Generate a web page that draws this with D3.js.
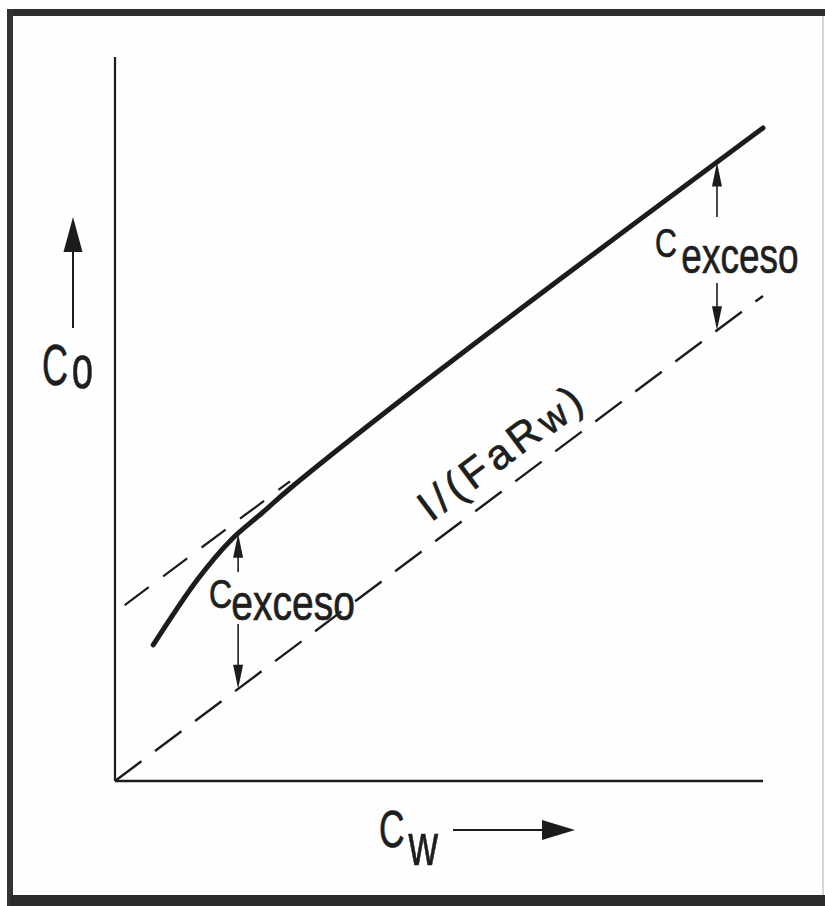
<!DOCTYPE html>
<html>
<head>
<meta charset="utf-8">
<script src="https://cdn.jsdelivr.net/npm/d3@7"></script>
<style>
  html, body { margin: 0; padding: 0; background: #fff; }
  svg { display: block; }
  text { font-family: "Liberation Sans", Arial, sans-serif; fill: #1e1e1e;
         stroke: #1e1e1e; stroke-width: 0.7; }
</style>
</head>
<body>
<svg id="chart" width="825" height="906"></svg>
<script>
// Measured concentration curve C_o versus C_w (arbitrary units, 0-100)
const curveCw = [5.9, 12.7, 17.8, 22.8, 27.0, 50.2, 100];
const curveCo = [18.8, 27.8, 33.2, 37.1, 40.4, 56.8, 90.2];

// Ideal line C_o = C_w / (Fa Rw): slope of the dashed line through the origin
const idealSlope = [0.67];
const idealCw = [0, 100];

// Asymptote parallel to the ideal line, offset by the excess
const asymptoteIntercept = [23.3];
const asymptoteCw = [1.5, 27.0];

// Where the excess is marked with arrows
const excessCw = [19.0, 92.9];

const labels = { excessMain: "C", excess: "exceso", ideal: "I/(FaR", idealSub: "w", idealEnd: ")",
                 x: "C", xSub: "w", y: "C", ySub: "o" };

const svg = d3.select("#chart");
const W = 825, H = 906;

// Scanned page frame
svg.append("rect").attr("width", W).attr("height", H).attr("fill", "#fefefe");
svg.append("rect").attr("x", 7).attr("y", 9).attr("width", W - 7).attr("height", 7).attr("fill", "#2e2e2e");
svg.append("rect").attr("x", 7).attr("y", 9).attr("width", 6).attr("height", H - 9).attr("fill", "#333");
svg.append("rect").attr("x", 10).attr("y", 895).attr("width", W - 10).attr("height", 11).attr("fill", "#2a2a2a");
svg.append("line").attr("x1", 823).attr("x2", 823).attr("y1", 16).attr("y2", 895)
  .attr("stroke", "#c8c8c8").attr("stroke-width", 1.5);

const x = d3.scaleLinear().domain([0, 100]).range([115, 763]);
const y = d3.scaleLinear().domain([0, 100]).range([781, 57]);

const ink = "#1c1c1c";

// Axes: plain lines, no ticks
svg.append("line").attr("x1", x(0)).attr("x2", x(0)).attr("y1", y(0)).attr("y2", y(100))
  .attr("stroke", ink).attr("stroke-width", 2.2);
svg.append("line").attr("x1", x(0)).attr("x2", x(100)).attr("y1", y(0)).attr("y2", y(0))
  .attr("stroke", ink).attr("stroke-width", 2.6);

const line = d3.line().x(d => x(d[0])).y(d => y(d[1]));

// Ideal dashed line
const ideal = idealCw.map(c => [c, idealSlope[0] * c]);
svg.append("path").attr("d", line(ideal)).attr("fill", "none")
  .attr("stroke", ink).attr("stroke-width", 2.4).attr("stroke-dasharray", "33 17");

// Asymptote dashed line
const asym = asymptoteCw.map(c => [c, idealSlope[0] * c + asymptoteIntercept[0]]);
svg.append("path").attr("d", line(asym)).attr("fill", "none")
  .attr("stroke", ink).attr("stroke-width", 2.2).attr("stroke-dasharray", "30 18");

// Measured curve
const pts = curveCw.map((c, i) => [c, curveCo[i]]);
svg.append("path").attr("d", line.curve(d3.curveCatmullRom.alpha(0.5))(pts)).attr("fill", "none")
  .attr("stroke", ink).attr("stroke-width", 5).attr("stroke-linecap", "round");

function curveAt(c) {
  for (let i = 0; i < curveCw.length - 1; i++) {
    if (c >= curveCw[i] && c <= curveCw[i + 1]) {
      const t = (c - curveCw[i]) / (curveCw[i + 1] - curveCw[i]);
      return curveCo[i] + t * (curveCo[i + 1] - curveCo[i]);
    }
  }
  return curveCo[curveCo.length - 1];
}

// Vertical arrow from (px, fromY) to tip at (px, toY)
function vArrow(px, fromY, toY, headLen, headW, sw) {
  const dir = Math.sign(toY - fromY);
  svg.append("line").attr("x1", px).attr("x2", px).attr("y1", fromY).attr("y2", toY - dir * headLen * 0.6)
    .attr("stroke", ink).attr("stroke-width", sw);
  svg.append("path")
    .attr("d", `M${px},${toY} L${px - headW / 2},${toY - dir * headLen} L${px + headW / 2},${toY - dir * headLen} Z`)
    .attr("fill", ink);
}
function hArrow(py, fromX, toX, headLen, headW, sw) {
  svg.append("line").attr("x1", fromX).attr("x2", toX - headLen * 0.6).attr("y1", py).attr("y2", py)
    .attr("stroke", ink).attr("stroke-width", sw);
  svg.append("path")
    .attr("d", `M${toX},${py} L${toX - headLen},${py - headW / 2} L${toX - headLen},${py + headW / 2} Z`)
    .attr("fill", ink);
}

// Excess markers with labels (C with a subscript "exceso"), condensed lettering
const excessLabelPos = [
  { tx: 209, ty: 608, sx: 0.78, dx: -1, dy: 12, up0: 572, dn0: 624 },
  { tx: 655, ty: 257, sx: 0.74, dx: 6, dy: 16, up0: 217, dn0: 283 }
];
excessCw.forEach((c, i) => {
  const px = x(c);
  const L = excessLabelPos[i];
  vArrow(px, L.up0, y(curveAt(c)), 24, 10, 1.6);
  vArrow(px, L.dn0, y(idealSlope[0] * c), 24, 10, 1.6);
  const t = svg.append("text").attr("transform", `translate(${L.tx},${L.ty}) scale(${L.sx},1)`);
  t.append("tspan").attr("font-size", 41).text(labels.excessMain);
  t.append("tspan").attr("font-size", 50).attr("dx", L.dx).attr("dy", L.dy).text(labels.excess);
});

// Label along the ideal line
const ang = Math.atan(idealSlope[0] * 7.24 / 6.48) * 180 / Math.PI;
const labC = 61;
const lab = svg.append("text")
  .attr("transform", `translate(${x(labC)},${y(idealSlope[0] * labC) - 22}) rotate(${-ang})`)
  .attr("text-anchor", "middle").attr("font-size", 42).attr("letter-spacing", 5);
lab.append("tspan").text(labels.ideal);
lab.append("tspan").attr("font-size", 38).attr("dy", 2).text(labels.idealSub);
lab.append("tspan").attr("dy", -2).text(labels.idealEnd);

// Axis titles with arrows
const yt = svg.append("text").attr("transform", "translate(42,385) scale(0.62,1)").attr("font-size", 58);
yt.append("tspan").text(labels.y);
yt.append("tspan").attr("dy", 3).attr("dx", 6).attr("font-size", 62).text(labels.ySub);
vArrow(73, 328, 217, 35, 19, 2);

const xt = svg.append("text").attr("transform", "translate(379,847) scale(0.68,1)").attr("font-size", 52);
xt.append("tspan").text(labels.x);
xt.append("tspan").attr("dy", 18).attr("dx", 6).attr("font-size", 60).text(labels.xSub);
hArrow(830, 453, 575, 33, 20, 2);
</script>
</body>
</html>
